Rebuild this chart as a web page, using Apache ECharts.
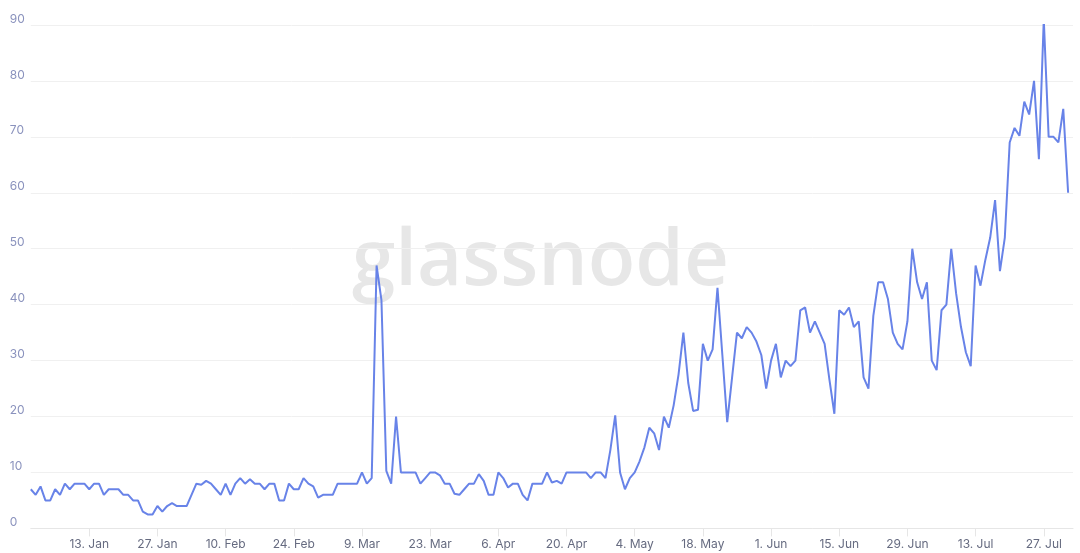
<!DOCTYPE html>
<html>
<head>
<meta charset="utf-8">
<script src="https://cdn.jsdelivr.net/npm/echarts@6/dist/echarts.min.js"></script>
<style>html,body{margin:0;padding:0;background:#fff}#c{width:1080px;height:553px}</style>
</head>
<body>
<div id="c"></div>
<script>
// Daily values, 2020
var jan = [7,6,7.5,5,5,7,6,8,7,8,8,8,7,8,8,6,7,7,7,6,6,5,5,3,2.5,2.5,4,3,4,4.5,4];
var feb = [4,4,6,8,7.8,8.5,8,7,6,8,6,8,9,8,8.8,8,8,7,8,8,5,5,8,7,7,9,8,7.5,5.5];
var mar = [6,6,6,8,8,8,8,8,10,8,9,47,40.8,10.3,8,20,10,10,10,10,8,9,10,10,9.5,8,8,6.2,6,7,8];
var apr = [8,9.7,8.5,6,6,10,9,7.3,8,8,6,5,8,8,8,10,8.2,8.5,8,10,10,10,10,10,9,10,10,9,14,20.2];
var may = [10,7,9,10,12,14.5,18,17,14,20,18,22,27.5,35,26,21,21.2,33,30,32,43,31,19,27,35,34,36,35,33.4,31,25];
var jun = [30,33,27,30,29,30,39,39.5,35,37,35,33,26.5,20.5,39,38.2,39.5,36,37,27,25,38,44,44,41,35,33,32,37,50];
var jul = [44,41,44,30,28.3,39,40,50,42,36,31.5,29,47,43.4,48,52,58.7,46,52,69,71.6,70.2,76.3,74,80,66,91,70,70,69,75];
var aug = [60];

var dayCount = 215; // Jan 1 .. Aug 2 2020 (axis extent)
var tickLabels = ['13. Jan','27. Jan','10. Feb','24. Feb','9. Mar','23. Mar','6. Apr','20. Apr','4. May','18. May','1. Jun','15. Jun','29. Jun','13. Jul','27. Jul'];
var yTicks = [0,10,20,30,40,50,60,70,80,90];

var values = [].concat(jan, feb, mar, apr, may, jun, jul, aug);
var categories = [];
var t0 = Date.UTC(2020,0,1);
for (var i = 0; i < dayCount; i++) {
  var d = new Date(t0 + i*86400000);
  categories.push(d.toISOString().slice(0,10));
}
var firstTick = 12, tickStep = 14;
function isTick(idx){ return idx >= firstTick && (idx-firstTick) % tickStep === 0; }

var chart = echarts.init(document.getElementById('c'), null, {renderer:'canvas'});
chart.setOption({
  animation: false,
  backgroundColor: '#ffffff',
  graphic: [{
    type: 'text',
    left: 352,
    top: 224,
    z: 0,
    silent: true,
    style: {
      text: 'glassnode',
      font: '600 78px "Open Sans"',
      fill: '#e7e7e7'
    }
  }],
  grid: {left: 30.8, right: 7, top: 25, bottom: 24.6, containLabel: false},
  xAxis: {
    type: 'category',
    data: categories,
    boundaryGap: false,
    axisLine: {show: true, lineStyle: {color: '#e6e6e6', width: 1}},
    axisTick: {show: true, interval: function(idx){return isTick(idx);}, length: 8, lineStyle: {color: '#e6e6e6'}},
    axisLabel: {
      interval: function(idx){return isTick(idx);},
      formatter: function(v, idx){ return tickLabels[(idx-firstTick)/tickStep] || ''; },
      color: '#666b80', fontSize: 12, fontFamily: 'Inter', margin: 10
    },
    splitLine: {show: false}
  },
  yAxis: {
    type: 'value',
    min: yTicks[0], max: yTicks[yTicks.length-1], interval: 10,
    axisLine: {show: false},
    axisTick: {show: false},
    axisLabel: {color: '#8a92bd', fontSize: 12, fontFamily: 'Inter', align: 'left', margin: 21, verticalAlign: 'bottom', lineHeight: 12},
    splitLine: {lineStyle: {color: '#f0f0f0', width: 1}}
  },
  series: [{
    type: 'line',
    data: values,
    showSymbol: false,
    symbol: 'none',
    z: 3,
    lineStyle: {color: '#6883e8', width: 2},
    itemStyle: {color: '#6883e8'}
  }]
});
</script>
</body>
</html>
